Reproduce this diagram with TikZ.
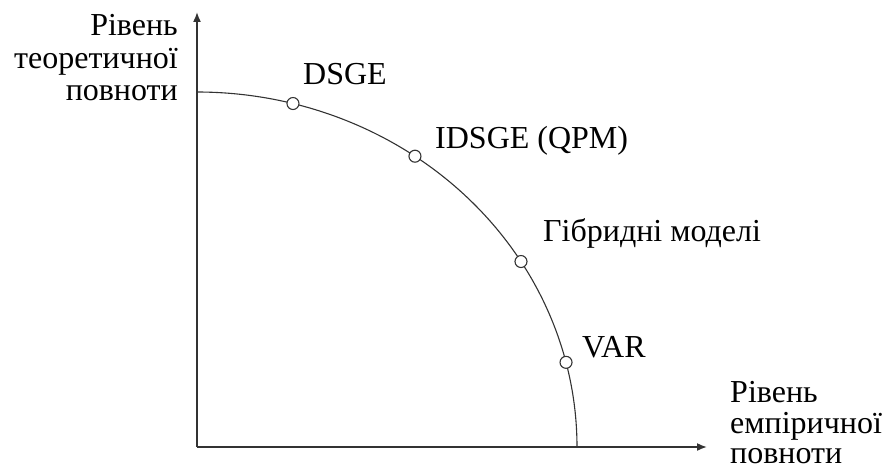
\documentclass[tikz,border=0pt]{standalone}
\usepackage{fontspec}
\setmainfont{Liberation Serif}
\usetikzlibrary{arrows.meta}
\begin{document}
\begin{tikzpicture}[x=1pt,y=-1pt,
  axis/.style={draw=black!80, line width=1.6pt, -{Latex[length=10pt,width=8pt]}},
  frontier/.style={draw=black!80, line width=1.1pt},
  model/.style={circle, draw=black!80, line width=1.1pt, fill=white, inner sep=0pt, minimum size=12pt},
  lbl/.style={font=\fontsize{32}{36}\selectfont, inner sep=0pt, text=black}]
  \useasboundingbox (0,0) rectangle (886,470);
  % axes
  \coordinate (O) at (197,447);
  \coordinate (ytip) at (197,12);
  \coordinate (xtip) at (707,447);
  \draw[axis] (O) -- (ytip);
  \draw[axis] (O) -- (xtip);
  % frontier: quarter ellipse, centre O, radii 380 x 355
  \draw[frontier] plot[domain=0:90, samples=90, smooth] ({197+380*cos(\x)}, {447-355*sin(\x)});
  % model points on the frontier
  \node[model] (dsge)  at ({197+380*cos(75.37)}, {447-355*sin(75.37)}) {};
  \node[model] (idsge) at ({197+380*cos(55.0)},  {447-355*sin(55.0)}) {};
  \node[model] (hyb)   at ({197+380*cos(31.5)},  {447-355*sin(31.5)}) {};
  \node[model] (var)   at ({197+380*cos(13.8)},  {447-355*sin(13.8)}) {};
  % model labels
  \node[lbl, anchor=base west] (tdsge)  at (303,85)  {DSGE};
  \node[lbl, anchor=base west] (tidsge) at (435,149) {IDSGE (QPM)};
  \node[lbl, anchor=base west] (thyb)   at (543,242) {Гібридні моделі};
  \node[lbl, anchor=base west] (tvar)   at (582,357) {VAR};
  % axis titles
  \node[lbl, anchor=base east] (y1) at (178,36)  {Рівень};
  \node[lbl, anchor=base east] (y2) at (178,69)  {теоретичної};
  \node[lbl, anchor=base east] (y3) at (178,101) {повноти};
  \node[lbl, anchor=base west] (x1) at (730,402) {Рівень};
  \node[lbl, anchor=base west] (x2) at (730,433) {емпіричної};
  \node[lbl, anchor=base west] (x3) at (730,463) {повноти};
\end{tikzpicture}
\end{document}
